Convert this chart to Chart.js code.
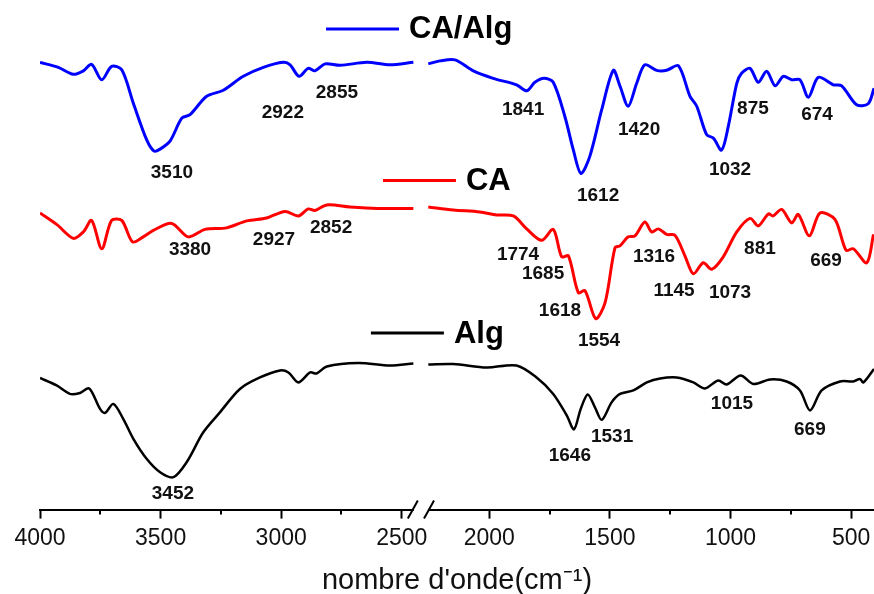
<!DOCTYPE html>
<html>
<head>
<meta charset="utf-8">
<script src="https://cdn.jsdelivr.net/npm/chart.js@4.4.0/dist/chart.umd.min.js"></script>
<style>
  html, body { margin: 0; background: #fff; }
  #wrap { width: 874px; height: 594px; }
</style>
</head>
<body>
<div id="wrap"><canvas id="ftir"></canvas></div>
<script>
// wavenumber (cm-1) and stacked transmittance (arbitrary units)
const caAlgWave = [4000, 3924, 3862, 3820, 3786, 3744, 3703, 3661, 3613, 3558, 3527, 3502, 3461, 3412, 3378, 3309, 3240, 3157, 3074, 2991, 2963, 2926, 2888, 2860, 2818, 2756, 2645, 2549, 2452,
  2253, 2204, 2142, 2066, 1984, 1887, 1845, 1811, 1773, 1735, 1686, 1652, 1620, 1583, 1534, 1486, 1458, 1424, 1389, 1355, 1306, 1265, 1216, 1168, 1140, 1099, 1071, 1037, 1009, 974, 954, 919, 885, 850, 815, 781, 746, 712, 677, 636, 574, 539, 477, 429, 405];
const caAlgT = [89.7, 88.7, 87.3, 88.0, 89.3, 86.2, 88.9, 88.2, 81.5, 74.2, 71.9, 72.3, 73.9, 78.5, 79.2, 82.9, 84.1, 86.9, 88.7, 89.7, 89.2, 86.9, 88.5, 88.0, 89.4, 89.1, 89.7, 89.2, 89.7,
  89.4, 90.0, 90.2, 88.0, 86.5, 85.2, 84.0, 85.7, 86.5, 85.7, 78.7, 72.2, 67.4, 70.9, 80.2, 88.1, 84.9, 80.9, 85.5, 89.2, 88.1, 88.1, 89.0, 82.9, 80.9, 75.2, 74.5, 72.1, 76.9, 85.5, 87.5, 88.5, 85.7, 87.9, 85.0, 86.9, 86.2, 86.2, 82.7, 86.7, 85.2, 85.0, 81.2, 81.4, 84.5];

const caWave = [4000, 3931, 3862, 3820, 3786, 3744, 3703, 3661, 3616, 3572, 3530, 3454, 3385, 3316, 3226, 3143, 3060, 2984, 2929, 2888, 2860, 2811, 2715, 2604, 2452,
  2253, 2149, 2039, 1969, 1900, 1845, 1783, 1735, 1700, 1672, 1631, 1603, 1559, 1520, 1479, 1458, 1424, 1396, 1355, 1327, 1299, 1265, 1230, 1189, 1154, 1113, 1078, 1030, 974, 919, 885, 843, 823, 788, 746, 719, 673, 629, 567, 521, 491, 435, 407];
const caT = [59.5, 57.2, 54.4, 55.7, 58.0, 52.3, 58.0, 58.0, 53.7, 54.7, 56.0, 57.4, 54.7, 56.2, 56.5, 57.9, 58.5, 59.8, 58.9, 60.3, 60.0, 61.1, 60.7, 60.4, 60.4,
  60.7, 60.1, 59.7, 59.1, 58.9, 56.3, 54.0, 56.2, 50.7, 50.9, 43.5, 43.9, 38.3, 41.5, 52.5, 52.9, 54.7, 54.9, 57.7, 55.7, 56.3, 55.2, 55.0, 50.9, 47.3, 49.5, 48.2, 50.7, 55.7, 58.4, 56.9, 59.3, 58.9, 60.2, 57.5, 59.2, 54.9, 59.5, 58.2, 52.0, 52.3, 49.5, 55.2];

const algWave = [4000, 3931, 3876, 3834, 3796, 3751, 3730, 3696, 3655, 3613, 3558, 3502, 3447, 3392, 3323, 3254, 3171, 3088, 3005, 2970, 2929, 2880, 2853, 2811, 2680, 2549, 2452,
  2253, 2149, 2011, 1887, 1804, 1735, 1679, 1649, 1621, 1592, 1562, 1534, 1493, 1458, 1403, 1347, 1292, 1223, 1154, 1106, 1051, 1016, 958, 905, 836, 767, 712, 670, 622, 546, 491, 463, 449, 405];
const algT = [26.4, 24.9, 23.2, 23.4, 24.3, 20.2, 19.4, 21.2, 18.2, 14.2, 10.2, 7.5, 6.5, 9.5, 15.5, 19.5, 24.2, 26.5, 27.9, 27.5, 25.5, 27.5, 27.3, 28.7, 29.4, 28.9, 29.3,
  29.1, 29.2, 28.5, 28.9, 26.5, 23.2, 18.9, 16.1, 20.2, 23.1, 20.5, 18.0, 21.5, 23.2, 23.9, 25.5, 26.3, 26.5, 25.5, 24.3, 25.9, 25.1, 26.9, 25.2, 26.1, 25.7, 23.9, 19.9, 23.9, 25.7, 25.7, 26.2, 25.5, 28.2];

// annotated band positions
const caAlgPeaks = [3510, 2922, 2855, 1841, 1612, 1420, 1032, 875, 674];
const caPeaks = [3380, 2927, 2852, 1774, 1685, 1618, 1554, 1316, 1145, 1073, 881, 669];
const algPeaks = [3452, 1646, 1531, 1015, 669];

const seriesNames = ['CA/Alg', 'CA', 'Alg'];
const majorTicks = [4000, 3500, 3000, 2500, 2000, 1500, 1000, 500];
const minorTicks = [3750, 3250, 2750, 1750, 1250, 750];

// axis break: 2450 -> 2250 is squeezed out of the scale
const BREAK_HI = 2450;
const BREAK_LO = 2250;
const BREAK_MID = (BREAK_HI + BREAK_LO) / 2;
const BREAK_SHIFT = 137;
const toAxis = (w) => (w > BREAK_MID ? w : w + BREAK_SHIFT);
const fromAxis = (u) => (u >= BREAK_HI ? u : u - BREAK_SHIFT);

const buildPoints = (waves, values) => {
  const points = [];
  waves.forEach((w, i) => {
    if (i > 0 && waves[i - 1] > BREAK_MID && w <= BREAK_MID) {
      points.push({ x: BREAK_HI - 20, y: null });
    }
    points.push({ x: toAxis(w), y: values[i] });
  });
  return points;
};

const FONT = "'Liberation Sans', Arial, sans-serif";

const peakLabelPlugin = {
  id: 'peakLabels',
  afterDatasetsDraw(chart, _args, opts) {
    const { ctx, scales: { x, y } } = chart;
    ctx.save();
    ctx.font = `bold ${opts.size}px ${FONT}`;
    ctx.fillStyle = '#111';
    ctx.textAlign = 'center';
    ctx.textBaseline = 'middle';
    opts.groups.forEach(({ peaks, spots }) => {
      peaks.forEach((peak, i) => {
        const [w, t] = spots[i];
        ctx.fillText(String(peak), x.getPixelForValue(toAxis(w)), y.getPixelForValue(t));
      });
    });
    ctx.restore();
  }
};

const seriesTagPlugin = {
  id: 'seriesTags',
  afterDatasetsDraw(chart, _args, opts) {
    const { ctx, scales: { x, y } } = chart;
    ctx.save();
    ctx.font = `bold ${opts.size}px ${FONT}`;
    ctx.textBaseline = 'middle';
    chart.data.datasets.forEach((dataset, i) => {
      const [w, t] = opts.spots[i];
      const px = x.getPixelForValue(toAxis(w));
      const py = y.getPixelForValue(t);
      ctx.strokeStyle = dataset.borderColor;
      ctx.lineWidth = 3;
      ctx.beginPath();
      ctx.moveTo(px, py);
      ctx.lineTo(px + opts.lineLength, py);
      ctx.stroke();
      ctx.fillStyle = '#000';
      ctx.fillText(dataset.label, px + opts.lineLength + 10, py + 1);
    });
    ctx.restore();
  }
};

const axisBreakPlugin = {
  id: 'axisBreak',
  afterDraw(chart) {
    const { ctx, scales: { x }, chartArea } = chart;
    const base = chartArea.bottom;
    ctx.save();
    ctx.strokeStyle = '#000';
    ctx.lineWidth = 2;
    minorTicks.forEach((w) => {
      const px = Math.round(x.getPixelForValue(toAxis(w)));
      ctx.beginPath();
      ctx.moveTo(px, base);
      ctx.lineTo(px, base + 5);
      ctx.stroke();
    });
    const left = x.getPixelForValue(BREAK_HI);
    const right = x.getPixelForValue(toAxis(BREAK_LO));
    ctx.fillStyle = '#fff';
    ctx.fillRect(left, base - 4, right - left, 8);
    [left - 1, right].forEach((cx) => {
      ctx.beginPath();
      ctx.moveTo(cx - 5, base + 9);
      ctx.lineTo(cx + 5, base - 9);
      ctx.stroke();
    });
    ctx.restore();
  }
};

const lineDataset = (label, waves, values, color, width) => ({
  label,
  data: buildPoints(waves, values),
  borderColor: color,
  borderWidth: width,
  pointRadius: 0,
  tension: 0.3,
  spanGaps: false,
  fill: false
});

new Chart(document.getElementById('ftir'), {
  type: 'line',
  plugins: [peakLabelPlugin, seriesTagPlugin, axisBreakPlugin],
  data: {
    datasets: [
      lineDataset(seriesNames[0], caAlgWave, caAlgT, '#0000ff', 3),
      lineDataset(seriesNames[1], caWave, caT, '#ff0000', 3),
      lineDataset(seriesNames[2], algWave, algT, '#000000', 2.5)
    ]
  },
  options: {
    responsive: true,
    maintainAspectRatio: false,
    animation: false,
    layout: { padding: { top: 11, right: 0, bottom: -4, left: 40 } },
    plugins: {
      legend: { display: false },
      tooltip: { enabled: false },
      peakLabels: {
        size: 19,
        groups: [
          { peaks: caAlgPeaks, spots: [[3453, 67.6], [2993, 79.6], [2769, 83.6], [1860, 80.2], [1549, 63.0], [1379, 76.2], [1002, 68.2], [907, 80.4], [641, 79.2]] },
          { peaks: caPeaks, spots: [[3378, 52.2], [3030, 54.2], [2793, 56.6], [1881, 51.2], [1777, 47.2], [1707, 39.8], [1545, 33.8], [1317, 50.8], [1234, 43.8], [1002, 43.4], [878, 52.4], [604, 50.0]] },
          { peaks: algPeaks, spots: [[3449, 3.2], [1666, 10.8], [1491, 14.6], [994, 21.2], [671, 16.0]] }
        ]
      },
      seriesTags: {
        size: 31,
        lineLength: 73,
        spots: [[2814, 96.4], [2578, 66.0], [2628, 35.4]]
      }
    },
    scales: {
      x: {
        type: 'linear',
        reverse: true,
        min: 542,
        max: 4000,
        afterBuildTicks(scale) {
          scale.ticks = majorTicks.map((w) => ({ value: toAxis(w) }));
        },
        afterFit(scale) {
          // the last label fits inside the canvas; keep the curves running to the edge
          scale.paddingRight = 0;
        },
        ticks: {
          autoSkip: false,
          maxRotation: 0,
          padding: 6,
          color: '#111',
          font: { family: FONT, size: 23 },
          callback: (value) => String(fromAxis(value))
        },
        grid: {
          drawOnChartArea: false,
          drawTicks: true,
          tickLength: 9,
          tickWidth: 2,
          tickColor: '#000'
        },
        border: { display: true, color: '#000', width: 2 },
        title: {
          display: true,
          text: "nombre d'onde(cm\u207B\u00B9)",
          color: '#111',
          font: { family: FONT, size: 29 },
          padding: { top: 5, bottom: 0 }
        }
      },
      y: {
        display: false,
        min: 0,
        max: 100
      }
    }
  }
});
</script>
</body>
</html>
